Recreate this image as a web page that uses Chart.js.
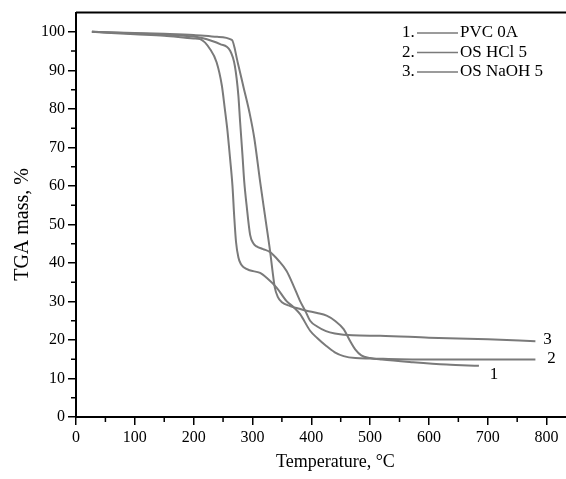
<!DOCTYPE html>
<html lang="en">
<head>
  <meta charset="UTF-8">
  <title>TGA curves</title>
  <script src="https://cdn.jsdelivr.net/npm/chart.js"></script>
  <style>
    body {
      margin: 0;
      padding: 0;
      background-color: #fff;
    }
    #wrap {
      width: 566px;
      height: 479px;
    }
  </style>
</head>
<body>
  <div id="wrap">
    <canvas id="tgaChart" width="566" height="479"></canvas>
  </div>

  <script>
    // series names as in the legend
    const names = ['PVC 0A', 'OS HCl 5', 'OS NaOH 5'];
    const xTitle = 'Temperature, °C';
    const yTitle = 'TGA mass, %';

    // 1. PVC 0A - temperature (°C) and mass (%)
    const temp1 = [27, 100, 150, 200, 240, 265, 275, 285, 295, 303, 313, 322, 330, 334, 338, 343, 350, 364, 380, 392, 410, 426, 440, 455, 465, 475, 485, 500, 520, 573, 630, 685];
    const mass1 = [100, 99.7, 99.5, 99.2, 98.7, 97.9, 92, 85.5, 79, 72.5, 61.1, 51.5, 43, 38, 33.6, 31.2, 29.8, 28.8, 28.1, 27.6, 27, 26.3, 25, 22.8, 20, 17.5, 16, 15.3, 14.9, 14.2, 13.6, 13.3];

    // 2. OS HCl 5
    const temp2 = [27, 100, 150, 200, 211, 228, 239, 248, 253, 257, 262, 266, 269, 272, 276, 280, 285, 295, 313, 325, 341, 358, 370, 381, 398, 410, 425, 440, 455, 475, 500, 550, 650, 781];
    const mass2 = [100, 99.4, 99, 98.3, 98.1, 95.5, 92.1, 86, 80, 75, 67, 60, 52, 45.5, 41.5, 39.8, 38.9, 38.1, 37.4, 36, 33.6, 30.1, 28.5, 26.7, 22.4, 20.5, 18.5, 16.8, 15.8, 15.3, 15.2, 15, 14.9, 14.9];

    // 3. OS NaOH 5
    const temp3 = [27, 100, 150, 200, 211, 245, 262, 270, 276, 279, 283, 286, 290, 296, 302, 307, 318, 330, 345, 358, 370, 381, 390, 398, 410, 425, 440, 470, 517, 600, 700, 781];
    const mass3 = [100, 99.6, 99.3, 98.8, 98.5, 96.8, 95.1, 91.2, 83.5, 76.6, 68, 61.1, 55, 47.3, 45, 44.3, 43.6, 42.8, 40.5, 37.9, 34, 30.1, 27.5, 25, 23.5, 22.3, 21.7, 21.2, 21.1, 20.6, 20.2, 19.7];

    const lineColor = '#7a7a7a';
    const serif = '"Liberation Serif", "Times New Roman", serif';

    function toPoints(t, m) {
      return t.map((x, i) => ({ x: x, y: m[i] }));
    }

    // minor ticks, top frame line, axis titles, legend and curve numbers
    const decorations = {
      id: 'decorations',
      afterDraw(chart) {
        const ctx = chart.ctx;
        const area = chart.chartArea;
        const xs = chart.scales.x;
        const ys = chart.scales.y;
        ctx.save();
        ctx.strokeStyle = '#000';
        ctx.lineWidth = 2;

        // top frame line
        ctx.beginPath();
        ctx.moveTo(area.left, area.top);
        ctx.lineTo(area.right, area.top);
        ctx.stroke();

        // minor ticks
        ctx.lineWidth = 1.5;
        ctx.beginPath();
        for (let v = 50; v < 800; v += 100) {
          const px = xs.getPixelForValue(v);
          ctx.moveTo(px, area.bottom);
          ctx.lineTo(px, area.bottom + 5);
        }
        for (let v = 5; v < 100; v += 10) {
          const py = ys.getPixelForValue(v);
          ctx.moveTo(area.left, py);
          ctx.lineTo(area.left - 5, py);
        }
        ctx.stroke();

        ctx.fillStyle = '#000';
        ctx.textBaseline = 'middle';
        ctx.textAlign = 'center';

        // axis titles
        ctx.font = '18px ' + serif;
        ctx.fillText(xTitle, xs.getPixelForValue(441), 462);
        ctx.save();
        ctx.translate(23, ys.getPixelForValue(50));
        ctx.rotate(-Math.PI / 2);
        ctx.font = '20px ' + serif;
        ctx.fillText(yTitle, 0, 0);
        ctx.restore();

        // legend
        ctx.font = '17px ' + serif;
        chart.data.datasets.forEach((ds, i) => {
          const y = 33 + i * 19.5;
          ctx.textAlign = 'left';
          ctx.fillText((i + 1) + '.', 402, y);
          ctx.strokeStyle = ds.borderColor;
          ctx.lineWidth = 1.5;
          ctx.beginPath();
          ctx.moveTo(417, y);
          ctx.lineTo(458, y);
          ctx.stroke();
          ctx.fillText(ds.label, 460, y);
        });

        // curve numbers next to the curve ends
        const offsets = [[15, 9], [16, -1], [12, -2]];
        chart.data.datasets.forEach((ds, i) => {
          const last = ds.data[ds.data.length - 1];
          const px = xs.getPixelForValue(last.x) + offsets[i][0];
          const py = ys.getPixelForValue(last.y) + offsets[i][1];
          ctx.textAlign = 'center';
          ctx.fillText(String(i + 1), px, py);
        });
        ctx.restore();
      }
    };

    const ctx = document.getElementById('tgaChart').getContext('2d');
    new Chart(ctx, {
      type: 'line',
      data: {
        datasets: [
          { label: names[0], data: toPoints(temp1, mass1) },
          { label: names[1], data: toPoints(temp2, mass2) },
          { label: names[2], data: toPoints(temp3, mass3) }
        ].map(ds => Object.assign(ds, {
          borderColor: lineColor,
          borderWidth: 2,
          pointRadius: 0,
          cubicInterpolationMode: 'monotone',
          fill: false
        }))
      },
      options: {
        responsive: false,
        animation: false,
        layout: { padding: { top: 10, left: 0, right: 0, bottom: 0 } },
        plugins: {
          legend: { display: false },
          tooltip: { enabled: false }
        },
        scales: {
          x: {
            type: 'linear',
            min: 0,
            max: 833,
            afterFit(scale) { scale.height = 62; },
            ticks: {
              stepSize: 100,
              includeBounds: false,
              color: '#000',
              padding: 3,
              maxRotation: 0,
              font: { family: serif, size: 16 }
            },
            grid: {
              drawOnChartArea: false,
              drawTicks: true,
              tickLength: 8,
              color: '#000',
              lineWidth: 1.5
            },
            border: { color: '#000', width: 2 }
          },
          y: {
            min: 0,
            max: 105,
            afterFit(scale) { scale.width = 76; },
            ticks: {
              stepSize: 10,
              includeBounds: false,
              color: '#000',
              padding: 3,
              font: { family: serif, size: 16 }
            },
            grid: {
              drawOnChartArea: false,
              drawTicks: true,
              tickLength: 8,
              color: '#000',
              lineWidth: 1.5
            },
            border: { color: '#000', width: 2 }
          }
        }
      },
      plugins: [decorations]
    });
  </script>
</body>
</html>
